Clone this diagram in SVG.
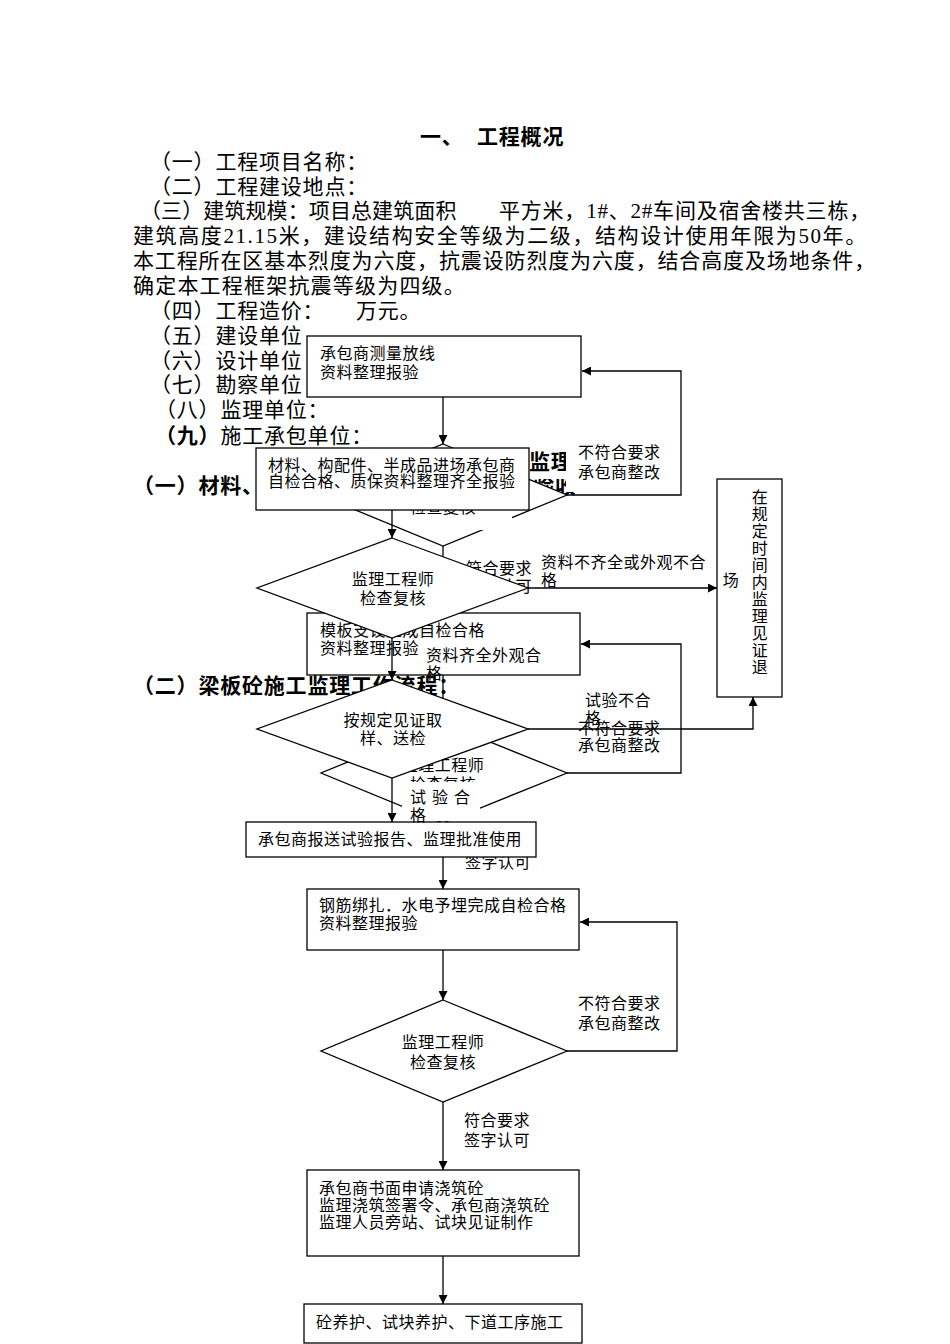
<svg xmlns="http://www.w3.org/2000/svg" width="950" height="1344" viewBox="0 0 950 1344">
<style>
.body{font-family:"Liberation Serif","Noto Sans CJK SC",serif;font-size:21px;letter-spacing:0.8px;fill:#000}
.bold{font-weight:bold}
.t{font-family:"Liberation Serif","Noto Sans CJK SC",sans-serif;font-size:16px;letter-spacing:0.5px;fill:#000}
.c{text-anchor:middle}
.shape{fill:#fff;stroke:#000;stroke-width:1.3}
.line{fill:none;stroke:#000;stroke-width:1.3}
.bg{fill:#fff;stroke:none}
</style>
<defs>
<marker id="ah" viewBox="0 0 10 10" refX="10" refY="5" markerWidth="10" markerHeight="9" markerUnits="userSpaceOnUse" orient="auto"><path d="M0,0 L10,5 L0,10 z" fill="#000"/></marker>
<clipPath id="frag"><rect x="525" y="479" width="60" height="20"/></clipPath>
<clipPath id="frag2"><rect x="400" y="510" width="120" height="10"/></clipPath>
</defs>
<rect width="950" height="1344" fill="#fff"/>

<g id="document-text">
<text class="body bold" x="420" y="144">一、</text>
<text class="body bold" x="477" y="144">工程概况</text>
<text class="body" x="150" y="169">（一）工程项目名称：</text>
<text class="body" x="150" y="194">（二）工程建设地点：</text>
<text class="body" x="140" y="218" style="letter-spacing:0.1px">（三）建筑规模：项目总建筑面积</text>
<text class="body" x="499" y="218" textLength="372" lengthAdjust="spacing">平方米，1#、2#车间及宿舍楼共三栋，</text>
<text class="body" x="133" y="243" textLength="734" lengthAdjust="spacing">建筑高度21.15米，建设结构安全等级为二级，结构设计使用年限为50年。</text>
<text class="body" x="133" y="268" textLength="743" lengthAdjust="spacing">本工程所在区基本烈度为六度，抗震设防烈度为六度，结合高度及场地条件，</text>
<text class="body" x="133" y="293" style="letter-spacing:1.2px">确定本工程框架抗震等级为四级。</text>
<text class="body" x="150" y="318">（四）工程造价：</text>
<text class="body" x="356" y="318">万元。</text>
<text class="body" x="150" y="343">（五）建设单位</text>
<text class="body" x="150" y="368">（六）设计单位</text>
<text class="body" x="150" y="392">（七）勘察单位</text>
<text class="body" x="155" y="417">（八）监理单位：</text>
<text class="body" x="155" y="443"><tspan class="bold">（九）</tspan>施工承包单位：</text>
<text class="body bold" x="133" y="493">（一）材料、</text>
<text class="body bold" x="529" y="469">监理：</text>
<text class="body bold" x="533" y="493" clip-path="url(#frag)">验收</text>
<text class="body bold" x="133" y="693">（二）梁板砼施工监理工作流程：</text>
</g>

<g id="slab-flow">
<g id="slab-connectors">
<path class="line" d="M443,397 V444" marker-end="url(#ah)"/>
<path class="line" d="M567,495 H681 V371 H582" marker-end="url(#ah)"/>
<path class="line" d="M443,546 V613" marker-end="url(#ah)"/>
<path class="line" d="M443,675 V723" marker-end="url(#ah)"/>
<path class="line" d="M567,773 H681 V644 H581" marker-end="url(#ah)"/>
<path class="line" d="M443,823 V889" marker-end="url(#ah)"/>
<path class="line" d="M443,950 V1000" marker-end="url(#ah)"/>
<path class="line" d="M567,1051 H677 V922 H580" marker-end="url(#ah)"/>
<path class="line" d="M443,1102 V1170" marker-end="url(#ah)"/>
<path class="line" d="M443,1256 V1304" marker-end="url(#ah)"/>
</g>
<g id="L-survey">
<rect class="shape" x="307" y="336" width="274" height="61"/>
<text class="t" x="320" y="359">承包商测量放线</text>
<text class="t" x="320" y="378">资料整理报验</text>
</g>
<g id="L-check1">
<polygon class="shape" points="443,444 567,495 443,546 319,495"/>
<rect class="bg" x="410" y="470" width="102" height="60"/>
<text class="t c" x="443" y="513" clip-path="url(#frag2)">检查复核</text>
</g>
<g id="L-label1">
<rect class="bg" x="566" y="440" width="112" height="52"/>
<text class="t" x="578" y="458">不符合要求</text>
<text class="t" x="578" y="478">承包商整改</text>
</g>
<g id="L-label2">
<text class="t" x="466" y="574">符合要求</text>
<text class="t" x="466" y="592">签字认可</text>
</g>
<g id="L-formwork">
<rect class="shape" x="307" y="613" width="273" height="62"/>
<text class="t" x="320" y="636">模板支设完成自检合格</text>
<text class="t" x="320" y="654">资料整理报验</text>
</g>
<g id="L-check2">
<polygon class="shape" points="443,723 567,773 443,823 321,773"/>
<text class="t c" x="443" y="771">监理工程师</text>
<text class="t c" x="443" y="790">检查复核</text>
</g>
<g id="L-label3">
<text class="t" x="578" y="734">不符合要求</text>
<text class="t" x="578" y="751">承包商整改</text>
</g>
<g id="L-label4">
<text class="t" x="465" y="868">签字认可</text>
</g>
<g id="L-rebar">
<rect class="shape" x="307" y="889" width="272" height="61"/>
<text class="t" x="319" y="911">钢筋绑扎．水电予埋完成自检合格</text>
<text class="t" x="319" y="929">资料整理报验</text>
</g>
<g id="L-check3">
<polygon class="shape" points="443,1000 567,1051 443,1102 321,1051"/>
<text class="t c" x="443" y="1048">监理工程师</text>
<text class="t c" x="443" y="1068">检查复核</text>
</g>
<g id="L-label5">
<text class="t" x="578" y="1009">不符合要求</text>
<text class="t" x="578" y="1029">承包商整改</text>
</g>
<g id="L-label6">
<text class="t" x="464" y="1126">符合要求</text>
<text class="t" x="464" y="1146">签字认可</text>
</g>
<g id="L-pour">
<rect class="shape" x="307" y="1170" width="272" height="86"/>
<text class="t" x="319" y="1194">承包商书面申请浇筑砼</text>
<text class="t" x="319" y="1211">监理浇筑签署令、承包商浇筑砼</text>
<text class="t" x="319" y="1228">监理人员旁站、试块见证制作</text>
</g>
<g id="L-cure">
<rect class="shape" x="304" y="1304" width="278" height="39"/>
<text class="t" x="316" y="1328">砼养护、试块养护、下道工序施工</text>
</g>
</g>

<g id="material-flow">
<g id="M-entry">
<rect class="shape" x="256" y="448" width="273" height="62"/>
<text class="t" x="268" y="471">材料、构配件、半成品进场承包商</text>
<text class="t" x="268" y="487">自检合格、质保资料整理齐全报验</text>
</g>
<g id="M-check">
<polygon class="shape" points="392,538 528,588 392,638 257,588"/>
<text class="t c" x="393" y="585">监理工程师</text>
<text class="t c" x="393" y="604">检查复核</text>
</g>
<g id="M-sample">
<polygon class="shape" points="392,680 528,729 392,778 257,729"/>
<text class="t c" x="393" y="726">按规定见证取</text>
<text class="t c" x="393" y="744">样、送检</text>
</g>
<g id="M-report">
<rect class="shape" x="246" y="822" width="290" height="35"/>
<text class="t" x="258" y="845">承包商报送试验报告、监理批准使用</text>
</g>
<g id="M-exit">
<rect class="shape" x="717" y="479" width="65" height="218"/>
<text class="t c" x="760"><tspan x="760" y="503">在</tspan><tspan x="760" y="520">规</tspan><tspan x="760" y="537">定</tspan><tspan x="760" y="554">时</tspan><tspan x="760" y="571">间</tspan><tspan x="760" y="588">内</tspan><tspan x="760" y="605">监</tspan><tspan x="760" y="622">理</tspan><tspan x="760" y="639">见</tspan><tspan x="760" y="656">证</tspan><tspan x="760" y="673">退</tspan></text>
<text class="t c" x="731" y="586">场</text>
</g>
<g id="material-connectors">
<path class="line" d="M392,510 V538" marker-end="url(#ah)"/>
<path class="line" d="M528,588 H717" marker-end="url(#ah)"/>
<path class="line" d="M392,638 V680" marker-end="url(#ah)"/>
<path class="line" d="M528,729 H753 V697" marker-end="url(#ah)"/>
<path class="line" d="M392,778 V822" marker-end="url(#ah)"/>
</g>
<g id="M-labels">
<text class="t" x="541" y="568">资料不齐全或外观不合</text>
<text class="t" x="541" y="586">格</text>
<rect class="bg" x="421" y="646" width="124" height="28"/>
<text class="t" x="426" y="661">资料齐全外观合</text>
<text class="t" x="426" y="679">格</text>
<text class="t" x="585" y="706">试验不合</text>
<text class="t" x="585" y="724">格</text>
<rect class="bg" x="402" y="782" width="78" height="39"/>
<text class="t" x="410" y="803" style="letter-spacing:6px">试验合</text>
<text class="t" x="410" y="821">格</text>
</g>
</g>
</svg>
